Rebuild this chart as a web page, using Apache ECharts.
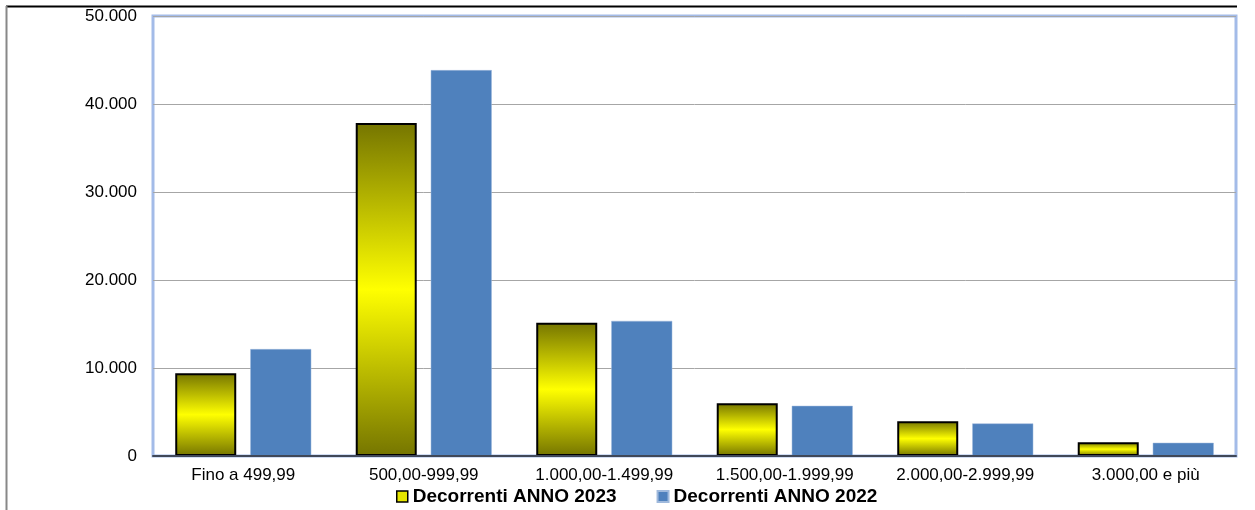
<!DOCTYPE html>
<html>
<head>
<meta charset="utf-8">
<script src="https://cdn.jsdelivr.net/npm/echarts@6/dist/echarts.min.js"></script>
<style>
html,body{margin:0;padding:0;background:#fff;}
#chart{width:1255px;height:510px;}
</style>
</head>
<body>
<div id="chart"></div>
<script>
var categories = ['Fino a 499,99', '500,00-999,99', '1.000,00-1.499,99', '1.500,00-1.999,99', '2.000,00-2.999,99', '3.000,00 e più'];
var values2023 = [9400, 37850, 15150, 6000, 3950, 1550];
var values2022 = [12150, 43850, 15350, 5700, 3700, 1500];
var seriesNames = ['Decorrenti ANNO 2023', 'Decorrenti ANNO 2022'];

function fmt(v) {
  return String(v).replace(/\B(?=(\d{3})+(?!\d))/g, '.');
}

var chart = echarts.init(document.getElementById('chart'), null, {renderer: 'canvas'});
var yellowGrad = new echarts.graphic.LinearGradient(0, 0, 0, 1, [
  {offset: 0, color: '#757500'},
  {offset: 0.5, color: '#ffff00'},
  {offset: 1, color: '#757500'}
]);
chart.setOption({
  animation: false,
  backgroundColor: '#ffffff',
  textStyle: {fontFamily: 'Liberation Sans, Arial, sans-serif'},
  graphic: [
    {type: 'line', shape: {x1: 6, y1: 6.5, x2: 1237, y2: 6.5}, style: {stroke: '#000', lineWidth: 2}, z: 10},
    {type: 'line', shape: {x1: 6.5, y1: 6, x2: 6.5, y2: 510}, style: {stroke: '#888', lineWidth: 2}, z: 10}
  ],
  grid: {
    left: 153, right: 19, top: 16, bottom: 54,
    show: true, borderColor: '#a3bbe8', borderWidth: 3, backgroundColor: 'transparent'
  },
  legend: {
    left: 391, top: 482,
    itemWidth: 11, itemHeight: 11, itemGap: 40,
    icon: 'rect',
    textStyle: {fontSize: 19, fontWeight: 'bold', color: '#000', fontFamily: 'Liberation Sans, Arial, sans-serif'},
    data: [
      {name: seriesNames[0], itemStyle: {color: '#e6e600', borderColor: '#000', borderWidth: 1.5}},
      {name: seriesNames[1], itemStyle: {color: '#4f81bd'}}
    ]
  },
  xAxis: {
    type: 'category',
    data: categories,
    axisLine: {show: true, lineStyle: {color: '#404858', width: 2}},
    axisTick: {show: false},
    axisLabel: {color: '#000', fontSize: 17, margin: 11, interval: 0},
    z: 5
  },
  yAxis: {
    type: 'value',
    min: 0, max: 50000, interval: 10000,
    axisLine: {show: false},
    axisTick: {show: false},
    splitLine: {lineStyle: {color: '#a6a6a6', width: 1}},
    axisLabel: {color: '#000', fontSize: 17, margin: 16, formatter: fmt}
  },
  series: [
    {
      name: seriesNames[0], type: 'bar', data: values2023,
      barWidth: 61, barGap: '23%',
      itemStyle: {color: yellowGrad, borderColor: '#000', borderWidth: 2}
    },
    {
      name: seriesNames[1], type: 'bar', data: values2022,
      barWidth: 61,
      itemStyle: {color: '#4f81bd', borderColor: '#9fb9dc', borderWidth: 0.5}
    }
  ]
});
</script>
</body>
</html>
